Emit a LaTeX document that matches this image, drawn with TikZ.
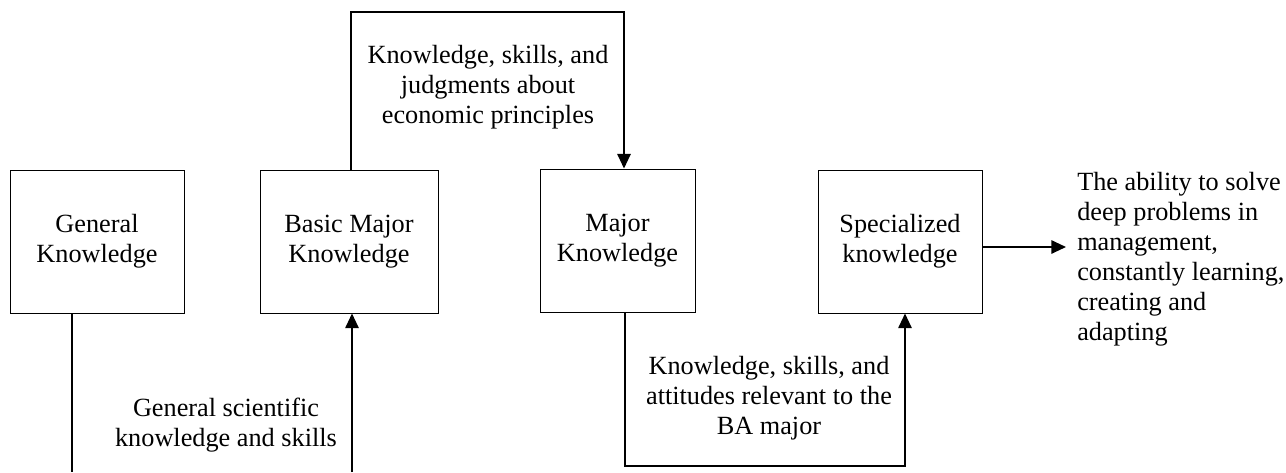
\documentclass[tikz,border=0pt]{standalone}
\usepackage{fontspec}
\setmainfont{Liberation Serif}
\usetikzlibrary{arrows.meta}

\begin{document}
\begin{tikzpicture}[x=0.75pt, y=-0.75pt,
    font=\fontsize{19.7}{22.5}\selectfont,
    box/.style={draw, rectangle, line width=0.7pt, minimum height=107.25pt, align=center},
    link/.style={line width=1.4pt},
    arrow/.style={link, -{Triangle[length=11pt, width=10pt]}},
    note/.style={align=center}]

    % Fix the page size
    \useasboundingbox (0, 0) rectangle (1286, 472);

    % Draw the four knowledge blocks
    \node[box, minimum width=130.5pt] (gen) at (97, 241.5) {General\\Knowledge};
    \node[box, minimum width=133.5pt] (basic) at (349, 241.5) {Basic Major\\Knowledge};
    \node[box, minimum width=116.25pt] (major) at (617.5, 240.5) {Major\\Knowledge};
    \node[box, minimum width=123pt] (spec) at (900, 241.5) {Specialized\\knowledge};

    % Draw loop over the top from basic major to major
    \coordinate (top_l) at (351, 12);
    \coordinate (top_r) at (624, 12);
    \draw[arrow] (basic.north -| top_l) -- (top_l) -- (top_r) -- (major.north -| top_r);
    \node[note] (label_top) at (488, 87.5) {Knowledge, skills, and\\judgments about\\economic principles};

    % Draw lines from general to basic major (they run off the bottom)
    \coordinate (gen_end) at (72, 472);
    \coordinate (basic_in) at (352, 472);
    \draw[link] (gen.south -| gen_end) -- (gen_end);
    \draw[arrow] (basic_in) -- (basic.south -| basic_in);
    \node[note] (label_gen) at (226, 425) {General scientific\\knowledge and skills};

    % Draw loop under the bottom from major to specialized
    \coordinate (bot_l) at (625, 466);
    \coordinate (bot_r) at (905, 466);
    \draw[arrow] (major.south -| bot_l) -- (bot_l) -- (bot_r) -- (spec.south -| bot_r);
    \node[note] (label_bot) at (769, 398) {Knowledge, skills, and\\attitudes relevant to the\\BA major};

    % Draw outcome of specialized knowledge
    \coordinate (out_end) at (1066, 247);
    \draw[arrow] (spec.east |- out_end) -- (out_end);
    \node[align=left, anchor=west, inner sep=0pt] (label_out) at (1077, 259) {The ability to solve\\deep problems in\\management,\\constantly learning,\\creating and\\adapting};

\end{tikzpicture}
\end{document}
